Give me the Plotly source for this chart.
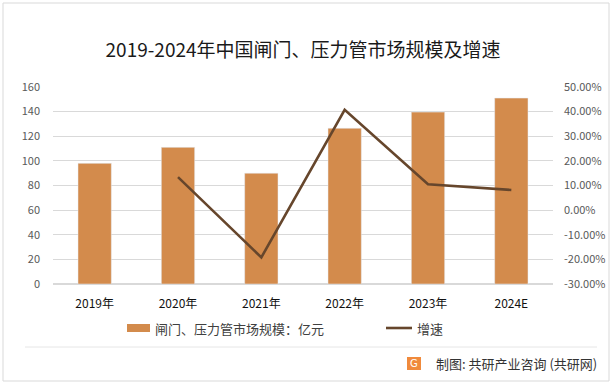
import plotly.graph_objects as go

years = ["2019年", "2020年", "2021年", "2022年", "2023年", "2024E"]
market_size = [98, 111, 90, 126.5, 139.6, 151]
growth_years = ["2020年", "2021年", "2022年", "2023年", "2024E"]
growth_rate = [13.4, -19.2, 40.7, 10.5, 8.2]  # percent

left_ticks = [0, 20, 40, 60, 80, 100, 120, 140, 160]
right_ticks = [-30, -20, -10, 0, 10, 20, 30, 40, 50]
right_ticktext = [f"{v:.2f}%" for v in right_ticks]

BAR = "#D38B4C"
LINE = "#66462C"
FONT = "Noto Sans CJK SC"

fig = go.Figure()
fig.add_trace(go.Bar(x=years, y=market_size, marker_color=BAR, name="闸门、压力管市场规模：亿元",
                     showlegend=False, yaxis="y"))
fig.add_trace(go.Scatter(x=growth_years, y=growth_rate, mode="lines", line=dict(color=LINE, width=2.6),
                         name="增速", showlegend=False, yaxis="y2"))

fig.update_layout(
    width=616, height=386, autosize=False,
    margin=dict(l=53, r=63, t=87, b=102),
    paper_bgcolor="white", plot_bgcolor="white",
    font=dict(family=FONT, size=11, color="#595959"),
    bargap=0.6,
    title=dict(text="2019-2024年中国闸门、压力管市场规模及增速", x=0.492, xanchor="center",
               y=1 - 50 / 386, yanchor="middle", font=dict(size=19, color="#1a1a1a", family=FONT)),
    xaxis=dict(showgrid=False, showline=False, ticks="", tickfont=dict(size=12, color="#111111"),
               ticklabelstandoff=11),
    yaxis=dict(range=[0, 160], tickvals=left_ticks, showgrid=True, gridcolor="#D9D9D9", gridwidth=1,
               zeroline=True, zerolinecolor="#D9D9D9", showline=False, ticks="",
               tickfont=dict(size=11, color="#595959"), ticklabelstandoff=12),
    yaxis2=dict(range=[-30, 50], tickvals=right_ticks, ticktext=right_ticktext, overlaying="y",
                side="right", showgrid=False, zeroline=False, showline=False, ticks="",
                tickfont=dict(size=11, color="#595959"), ticklabelstandoff=10),
)

def px(x):
    return (x - 53) / 500
def py(y):
    return (284 - y) / 197

shapes = [
    dict(type="rect", xref="paper", yref="paper", x0=px(3), x1=px(609), y0=py(381), y1=py(3),
         line=dict(color="#D9D9D9", width=1), fillcolor="rgba(0,0,0,0)", layer="below"),
    dict(type="line", xref="paper", yref="paper", x0=px(25), x1=px(597), y0=py(347), y1=py(347),
         line=dict(color="#E6E6E6", width=1)),
    dict(type="rect", xref="paper", yref="paper", x0=px(127), x1=px(150), y0=py(332), y1=py(324),
         fillcolor=BAR, line=dict(width=0)),
    dict(type="line", xref="paper", yref="paper", x0=px(386), x1=px(412), y0=py(328), y1=py(328),
         line=dict(color=LINE, width=2.6)),
    dict(type="rect", xref="paper", yref="paper", x0=px(407), x1=px(421), y0=py(370), y1=py(357),
         fillcolor="#F08A3C", line=dict(width=0)),
]
fig.update_layout(shapes=shapes)

annotations = [
    dict(text="闸门、压力管市场规模：亿元", xref="paper", yref="paper", x=px(153), y=py(328),
         xanchor="left", yanchor="middle", showarrow=False, font=dict(size=13, color="#404040")),
    dict(text="增速", xref="paper", yref="paper", x=px(415), y=py(328),
         xanchor="left", yanchor="middle", showarrow=False, font=dict(size=13, color="#404040")),
    dict(text="G", xref="paper", yref="paper", x=px(414), y=py(363.5),
         xanchor="center", yanchor="middle", showarrow=False, font=dict(size=10, color="white", family="DejaVu Sans")),
    dict(text="制图: 共研产业咨询 (共研网)", xref="paper", yref="paper", x=px(599), y=py(363),
         xanchor="right", yanchor="middle", showarrow=False, font=dict(size=13, color="#333333")),
]
fig.update_layout(annotations=annotations)

fig.write_html("out.html", config={"displayModeBar": False},
               post_script="document.body.style.margin='0px';document.body.style.overflow='hidden';")
